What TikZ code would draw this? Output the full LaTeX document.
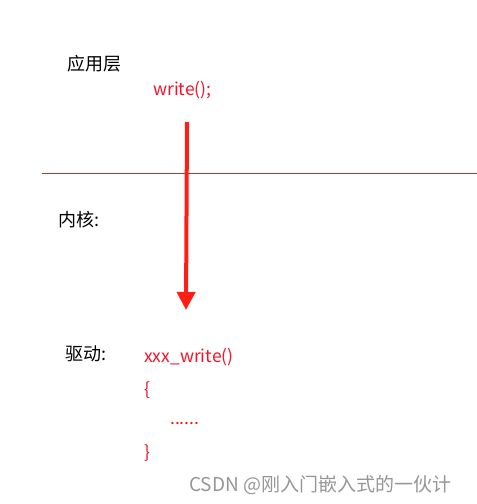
\documentclass[tikz,border=0pt]{standalone}
\usepackage{fontspec}
\setmainfont{Noto Sans CJK SC}
\usetikzlibrary{arrows.meta}
\definecolor{txtred}{RGB}{240,20,40}
\definecolor{arrred}{RGB}{255,30,20}
\definecolor{linered}{RGB}{170,60,60}
\definecolor{wmgray}{RGB}{150,150,150}
\tikzset{
  lbl/.style={font=\fontsize{18}{21}\selectfont, text=black, inner sep=0pt, anchor=west},
  code/.style={font=\fontsize{17.5}{21}\selectfont, text=txtred, inner sep=0pt, anchor=west},
  wmark/.style={font=\fontsize{19}{22}\selectfont, text=wmgray, inner sep=0pt, anchor=west}
}
\begin{document}
\begin{tikzpicture}[x=1pt,y=-1pt]
\useasboundingbox (0,0) rectangle (477,504);
\node[lbl] (app) at (67,64) {应用层};
\node[code] (wr) at (153,90) {write();};
\coordinate (l1) at (42,173);
\coordinate (l2) at (477,173);
\draw[linered, line width=0.8pt] (l1) -- (l2);
\node[lbl] (kern) at (58,220) {内核:};
\coordinate (a1) at (187,122);
\coordinate (a2) at (186,310);
\draw[arrred, line width=4pt, -{Triangle[length=18pt,width=18pt]}] (a1) -- (a2);
\node[lbl] (drv) at (65,354) {驱动:};
\node[code] (xw) at (144,357) {xxx\_write()};
\node[code] (ob) at (144,390) {\{};
\node[code] (dots) at (170,424) {......};
\node[code] (cb) at (144,453) {\}};
\node[wmark] (wm) at (189,485) {CSDN @刚入门嵌入式的一伙计};
\end{tikzpicture}
\end{document}
